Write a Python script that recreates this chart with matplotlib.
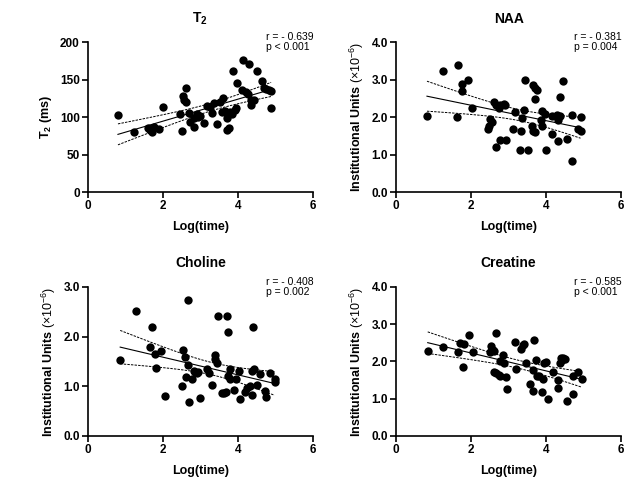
import numpy as np
import matplotlib
matplotlib.use("Agg")
import matplotlib.pyplot as plt

plt.rcParams['font.family'] = ['Liberation Sans', 'DejaVu Sans']
plt.rcParams['mathtext.fontset'] = 'custom'
plt.rcParams['mathtext.rm'] = 'Liberation Sans'
plt.rcParams['mathtext.it'] = 'Liberation Sans'
plt.rcParams['mathtext.bf'] = 'Liberation Sans:bold'

# ── Data ────────────────────────────────────────────────────
t2_x = [0.80, 1.22, 1.60, 1.66, 1.70, 1.75, 1.90, 2.01, 2.46, 2.50, 2.53, 2.57,
        2.62, 2.63, 2.70, 2.72, 2.83, 2.84, 2.90, 2.94, 2.99, 3.10, 3.18, 3.31,
        3.27, 3.37, 3.45, 3.52, 3.61, 3.59, 3.65, 3.70, 3.72, 3.77, 3.80, 3.85,
        3.87, 3.92, 3.98, 3.96, 4.12, 4.14, 4.23, 4.30, 4.27, 4.34, 4.36, 4.42,
        4.51, 4.65, 4.70, 4.76, 4.83, 4.89, 4.89]
t2_y = [102.7, 80.5, 85.8, 82.7, 80.5, 87.2, 84.0, 114.0, 103.5, 81.4, 127.9, 122.6,
        120.0, 139.4, 104.9, 93.8, 86.3, 99.0, 104.0, 100.0, 101.0, 92.5, 114.6, 105.8,
        113.7, 119.0, 90.7, 120.4, 126.0, 107.0, 108.4, 98.2, 82.7, 85.0, 107.0, 103.5,
        161.5, 109.0, 146.0, 112.4, 136.7, 176.5, 133.6, 171.0, 130.5, 122.6, 116.0, 122.6,
        162.0, 148.7, 138.5, 138.0, 136.7, 134.5, 112.8]

naa_x = [0.82, 1.24, 1.62, 1.66, 1.75, 1.75, 1.91, 2.03, 2.51, 2.55, 2.48, 2.46,
         2.62, 2.67, 2.73, 2.77, 2.88, 2.91, 2.77, 2.93, 2.65, 3.13, 3.18, 3.31,
         3.33, 3.35, 3.40, 3.44, 3.53, 3.62, 3.64, 3.71, 3.66, 3.71, 3.75, 3.71,
         3.87, 3.88, 3.90, 3.97, 4.00, 4.15, 4.17, 4.28, 4.31, 4.33, 4.37, 4.36,
         4.46, 4.55, 4.68, 4.70, 4.84, 4.92, 4.92]
naa_y = [2.04, 3.24, 2.01, 3.40, 2.88, 2.69, 2.98, 2.23, 1.95, 1.86, 1.76, 1.69,
         2.40, 2.31, 2.23, 2.33, 2.36, 2.32, 1.38, 1.38, 1.19, 1.67, 2.14, 1.11,
         1.62, 1.98, 2.20, 2.98, 1.12, 1.77, 1.62, 1.61, 2.87, 2.78, 2.72, 2.48,
         1.93, 1.76, 2.17, 2.07, 1.12, 1.54, 2.04, 2.05, 1.36, 1.93, 2.02, 2.54,
         2.97, 1.42, 2.05, 0.83, 1.69, 2.01, 1.62]

cho_x = [0.86, 1.28, 1.66, 1.71, 1.78, 1.81, 1.96, 2.06, 2.51, 2.55, 2.58, 2.61,
         2.67, 2.68, 2.70, 2.77, 2.82, 2.86, 2.91, 2.95, 2.98, 3.17, 3.22, 3.32,
         3.38, 3.40, 3.44, 3.48, 3.57, 3.64, 3.69, 3.72, 3.75, 3.78, 3.75, 3.78,
         3.91, 3.95, 4.02, 4.06, 4.20, 4.24, 4.33, 4.37, 4.39, 4.40, 4.44, 4.52,
         4.60, 4.73, 4.75, 4.86, 4.98, 4.98]
cho_y = [1.53, 2.52, 1.79, 2.19, 1.65, 1.37, 1.71, 0.81, 1.00, 1.72, 1.59, 1.18,
         1.43, 2.73, 0.69, 1.14, 1.30, 1.28, 1.26, 1.28, 0.77, 1.35, 1.26, 1.02,
         1.62, 1.55, 1.47, 2.42, 0.87, 0.87, 0.89, 2.41, 2.09, 1.35, 1.20, 1.14,
         0.93, 1.14, 1.30, 0.74, 0.89, 0.96, 1.01, 0.83, 1.30, 2.19, 1.35, 1.03,
         1.25, 0.91, 0.78, 1.26, 1.14, 1.08]

cre_x = [0.84, 1.26, 1.64, 1.69, 1.80, 1.78, 1.95, 2.04, 2.49, 2.52, 2.57, 2.61,
         2.66, 2.60, 2.67, 2.73, 2.77, 2.77, 2.86, 2.89, 2.93, 2.95, 3.16, 3.20,
         3.32, 3.38, 3.42, 3.47, 3.56, 3.64, 3.64, 3.69, 3.72, 3.75, 3.80, 3.88,
         3.91, 3.95, 4.00, 4.04, 4.18, 4.31, 4.33, 4.37, 4.39, 4.42, 4.46, 4.51,
         4.57, 4.71, 4.73, 4.86, 4.95]
cre_y = [2.28, 2.39, 2.26, 2.50, 2.48, 1.86, 2.72, 2.24, 2.24, 2.42, 2.30, 2.28,
         2.75, 1.72, 1.68, 1.63, 1.61, 2.01, 2.17, 1.95, 1.59, 1.25, 2.51, 1.79,
         2.33, 2.44, 2.48, 1.95, 1.38, 1.77, 1.21, 2.57, 2.04, 1.61, 1.62, 1.17,
         1.54, 1.95, 1.99, 0.98, 1.72, 1.50, 1.28, 1.95, 2.08, 2.04, 2.08, 2.06,
         0.95, 1.62, 1.13, 1.71, 1.52]

titles = [r'$\mathbf{T_2}$', 'NAA', 'Choline', 'Creatine']
ylabels = [r'$\mathbf{T_2}$ (ms)'] + [r'Institutional Units $\mathrm{(\times 10^{-6})}$'] * 3
stats = ['r = - 0.639\np < 0.001', 'r = - 0.381\np = 0.004',
         'r = - 0.408\np = 0.002', 'r = - 0.585\np < 0.001']
ymax = [200, 4.0, 3.0, 4.0]
yticks = [[0, 50, 100, 150, 200], [0, 1, 2, 3, 4], [0, 1, 2, 3], [0, 1, 2, 3, 4]]
xs = [t2_x, naa_x, cho_x, cre_x]
ys = [t2_y, naa_y, cho_y, cre_y]

# axes boxes in figure fraction: [left, bottom, width, height]
boxes = [[0.139, 0.599, 0.355, 0.313], [0.626, 0.599, 0.355, 0.313],
         [0.139, 0.090, 0.355, 0.311], [0.626, 0.090, 0.355, 0.311]]


def fit_with_ci(x, y):
    x = np.asarray(x)
    y = np.asarray(y)
    n = len(x)
    slope, icpt = np.polyfit(x, y, 1)
    resid = y - (slope * x + icpt)
    s = np.sqrt(np.sum(resid ** 2) / (n - 2))
    xx = np.linspace(x.min(), x.max(), 100)
    yy = slope * xx + icpt
    se = s * np.sqrt(1 / n + (xx - x.mean()) ** 2 / np.sum((x - x.mean()) ** 2))
    tval = 2.006  # t(0.975, ~53 df)
    return xx, yy, yy - tval * se, yy + tval * se


fig = plt.figure(figsize=(6.33, 4.79), dpi=100)

for i in range(4):
    ax = fig.add_axes(boxes[i])
    ax.scatter(xs[i], ys[i], s=36, color='black', zorder=3, linewidths=0)
    xx, yy, lo, hi = fit_with_ci(xs[i], ys[i])
    ax.plot(xx, yy, color='black', lw=0.8)
    ax.plot(xx, lo, color='black', lw=0.7, ls=(0, (2.5, 1.2)))
    ax.plot(xx, hi, color='black', lw=0.7, ls=(0, (2.5, 1.2)))

    ax.set_xlim(0, 6)
    ax.set_ylim(0, ymax[i])
    ax.set_xticks([0, 2, 4, 6])
    ax.set_yticks(yticks[i])
    if i > 0:
        ax.set_yticklabels([f'{v:.1f}' for v in yticks[i]])

    for side in ['top', 'right']:
        ax.spines[side].set_visible(False)
    for side in ['left', 'bottom']:
        ax.spines[side].set_linewidth(1.2)
    ax.tick_params(width=1.2, length=4, labelsize=8.5, pad=2)
    for lab in ax.get_xticklabels() + ax.get_yticklabels():
        lab.set_fontweight('bold')

    ax.set_title(titles[i], fontsize=10, fontweight='bold', pad=14)
    ax.set_xlabel('Log(time)', fontsize=9, fontweight='bold', labelpad=6)
    ax.set_ylabel(ylabels[i], fontsize=9, fontweight='bold', labelpad=4)
    ax.text(0.79, 1.065, stats[i], transform=ax.transAxes, ha='left', va='top',
            fontsize=7.5, linespacing=1.0)

fig.savefig('out.png', dpi=100)
